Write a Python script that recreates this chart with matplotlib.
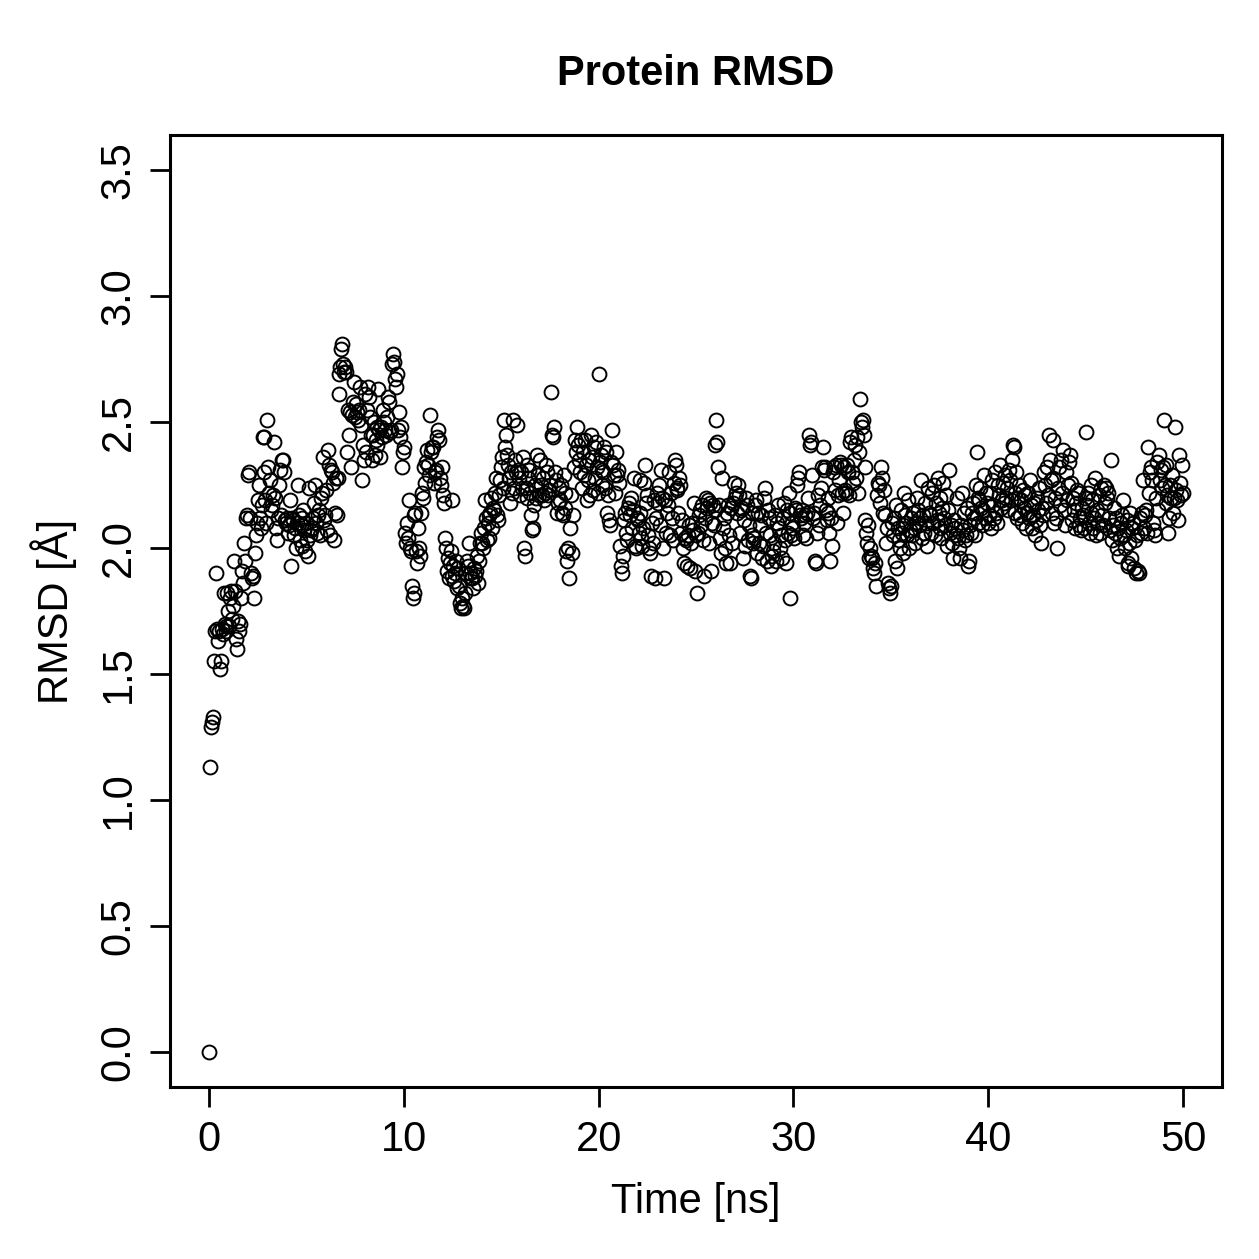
import numpy as np
import matplotlib
matplotlib.use("Agg")
import matplotlib.pyplot as plt

plt.rcParams['font.family'] = ['Liberation Sans', 'DejaVu Sans']

# RMSD values, one frame every 50 ps, split per 10 ns block
rmsd_00_10 = [
    0.00, 1.13, 1.29, 1.31, 1.33, 1.55, 1.67, 1.90, 1.68, 1.63, 1.67, 1.52, 1.55, 1.68, 1.66, 1.82, 1.70, 1.67, 1.69, 1.82,
    1.75, 1.69, 1.80, 1.83, 1.72, 1.77, 1.95, 1.83, 1.64, 1.60, 1.71, 1.67, 1.70, 1.80, 1.91, 1.86, 2.02, 1.95, 2.12, 2.13,
    2.29, 2.30, 2.12, 1.90, 1.88, 1.89, 1.80, 1.98, 2.05, 2.10, 2.19, 2.25, 2.12, 2.08, 2.17, 2.44, 2.44, 2.30, 2.19, 2.10,
    2.51, 2.32, 2.22, 2.27, 2.15, 2.17, 2.21, 2.42, 2.20, 2.08, 2.03, 2.12, 2.25, 2.31, 2.13, 2.35, 2.35, 2.30, 2.11, 2.10,
    2.12, 2.06, 2.09, 2.19, 1.93, 2.12, 2.11, 2.05, 2.08, 2.00, 2.10, 2.25, 2.13, 2.03, 2.09, 2.01, 2.12, 2.15, 2.07, 1.99,
    2.10, 2.03, 1.97, 2.24, 2.05, 2.07, 2.08, 2.12, 2.18, 2.25, 2.10, 2.06, 2.13, 2.15, 2.05, 2.20, 2.22, 2.36, 2.11, 2.13,
    2.23, 2.07, 2.39, 2.33, 2.05, 2.31, 2.30, 2.26, 2.03, 2.14, 2.28, 2.13, 2.28, 2.61, 2.69, 2.72, 2.79, 2.81, 2.73, 2.70,
    2.72, 2.70, 2.38, 2.55, 2.45, 2.54, 2.32, 2.53, 2.58, 2.66, 2.52, 2.57, 2.54, 2.51, 2.55, 2.64, 2.49, 2.27, 2.41, 2.35,
    2.61, 2.38, 2.55, 2.64, 2.60, 2.52, 2.45, 2.35, 2.45, 2.50, 2.37, 2.43, 2.48, 2.41, 2.63, 2.47, 2.36, 2.48, 2.44, 2.55,
    2.50, 2.47, 2.45, 2.52, 2.60, 2.58, 2.46, 2.47, 2.73, 2.77, 2.74, 2.67, 2.64, 2.69, 2.47, 2.54, 2.44, 2.48, 2.32, 2.38,
]
rmsd_10_20 = [
    2.40, 2.06, 2.02, 2.10, 2.04, 2.19, 2.00, 1.99, 1.85, 1.80, 1.82, 2.13, 2.14, 1.99, 1.94, 2.08, 2.00, 1.97, 2.14, 2.22,
    2.20, 2.32, 2.26, 2.34, 2.39, 2.33, 2.29, 2.53, 2.38, 2.40, 2.40, 2.26, 2.30, 2.31, 2.44, 2.47, 2.43, 2.28, 2.25, 2.32,
    2.21, 2.18, 2.04, 2.00, 1.91, 1.96, 1.88, 1.94, 1.99, 2.19, 1.89, 1.93, 1.87, 1.90, 1.95, 1.84, 1.92, 1.85, 1.78, 1.76,
    1.80, 1.77, 1.76, 1.82, 1.90, 1.95, 1.93, 2.02, 1.90, 1.88, 1.88, 1.84, 1.92, 1.89, 1.91, 1.97, 1.86, 1.95, 2.02, 2.06,
    2.02, 2.00, 2.08, 2.19, 2.12, 2.03, 2.10, 2.04, 2.13, 2.14, 2.20, 2.08, 2.16, 2.15, 2.22, 2.28, 2.13, 2.11, 2.21, 2.27,
    2.32, 2.36, 2.24, 2.51, 2.40, 2.45, 2.37, 2.33, 2.28, 2.18, 2.30, 2.22, 2.51, 2.24, 2.35, 2.30, 2.49, 2.31, 2.28, 2.21,
    2.30, 2.24, 2.36, 2.00, 1.97, 2.24, 2.33, 2.20, 2.28, 2.31, 2.22, 2.13, 2.07, 2.08, 2.17, 2.25, 2.20, 2.37, 2.29, 2.21,
    2.35, 2.25, 2.21, 2.28, 2.19, 2.22, 2.33, 2.30, 2.21, 2.23, 2.25, 2.62, 2.45, 2.44, 2.48, 2.30, 2.27, 2.14, 2.18, 2.24,
    2.19, 2.25, 2.14, 2.13, 2.29, 2.22, 2.16, 1.99, 1.95, 2.00, 1.88, 2.08, 2.21, 1.98, 2.13, 2.32, 2.43, 2.38, 2.48, 2.41,
    2.35, 2.30, 2.43, 2.24, 2.38, 2.29, 2.43, 2.33, 2.19, 2.27, 2.35, 2.21, 2.45, 2.36, 2.23, 2.40, 2.28, 2.42, 2.32, 2.22,
]
rmsd_20_30 = [
    2.69, 2.34, 2.37, 2.25, 2.31, 2.30, 2.40, 2.24, 2.38, 2.14, 2.21, 2.11, 2.09, 2.34, 2.47, 2.33, 2.29, 2.22, 2.38, 2.29,
    2.31, 2.26, 2.01, 1.93, 1.90, 1.97, 2.11, 2.14, 2.06, 2.03, 2.16, 2.18, 2.13, 2.20, 2.08, 2.15, 2.28, 2.01, 2.00, 2.12,
    2.11, 2.06, 2.14, 2.27, 2.04, 2.01, 2.08, 2.26, 2.33, 2.18, 2.21, 2.05, 2.00, 1.98, 1.89, 2.10, 2.02, 2.19, 1.88, 2.12,
    2.22, 2.18, 2.25, 2.09, 2.31, 2.20, 2.00, 1.88, 2.19, 2.06, 2.14, 2.17, 2.30, 2.05, 2.22, 2.12, 2.03, 2.26, 2.35, 2.33,
    2.23, 2.24, 2.14, 2.28, 2.25, 2.06, 2.11, 2.00, 1.94, 2.04, 2.03, 1.93, 2.05, 2.09, 1.92, 2.02, 2.10, 2.07, 2.18, 1.91,
    2.05, 1.82, 2.06, 2.13, 2.15, 2.09, 2.17, 2.03, 1.89, 2.12, 2.20, 2.16, 2.19, 2.02, 2.18, 1.91, 2.10, 2.17, 2.09, 2.15,
    2.41, 2.51, 2.42, 2.32, 2.17, 2.04, 1.98, 2.28, 2.08, 2.12, 2.00, 1.94, 2.14, 2.17, 2.05, 1.94, 2.16, 2.02, 2.18, 2.26,
    2.20, 2.22, 2.14, 2.25, 2.21, 2.06, 2.15, 2.16, 1.96, 2.11, 2.01, 2.20, 2.17, 2.03, 2.09, 1.89, 1.88, 2.05, 2.14, 2.02,
    2.04, 2.17, 2.19, 1.98, 2.14, 2.02, 2.09, 2.13, 1.96, 2.01, 2.20, 2.24, 2.06, 1.95, 2.15, 2.12, 2.05, 1.93, 1.97, 1.99,
    2.02, 2.13, 1.95, 2.10, 2.17, 2.08, 2.00, 2.05, 1.96, 2.12, 2.18, 2.03, 1.94, 2.15, 2.06, 2.22, 1.80, 2.14, 2.05, 2.10,
]
rmsd_30_40 = [
    2.08, 2.04, 2.16, 2.15, 2.25, 2.28, 2.30, 2.13, 2.12, 2.15, 2.05, 2.10, 2.13, 2.04, 2.14, 2.20, 2.45, 2.41, 2.42, 2.29,
    2.12, 2.14, 1.95, 1.94, 2.06, 2.21, 2.09, 2.17, 2.24, 2.32, 2.40, 2.31, 2.32, 2.15, 2.11, 2.14, 2.20, 2.06, 1.95, 2.12,
    2.01, 2.30, 2.32, 2.23, 2.33, 2.10, 2.21, 2.27, 2.34, 2.33, 2.22, 2.14, 2.32, 2.23, 2.22, 2.33, 2.30, 2.21, 2.42, 2.44,
    2.30, 2.26, 2.35, 2.41, 2.28, 2.44, 2.22, 2.38, 2.59, 2.50, 2.48, 2.51, 2.45, 2.32, 2.11, 2.06, 2.02, 2.09, 1.96, 2.00,
    1.97, 1.96, 1.92, 1.90, 1.94, 1.85, 2.21, 2.26, 2.25, 2.18, 2.32, 2.28, 2.14, 2.23, 2.13, 2.02, 2.08, 1.86, 1.84, 1.82,
    1.85, 2.10, 2.05, 2.12, 1.95, 2.17, 1.92, 2.08, 2.03, 2.00, 2.15, 2.06, 2.09, 1.98, 2.22, 2.13, 2.10, 2.05, 2.19, 2.00,
    2.07, 2.12, 2.05, 2.14, 2.08, 2.02, 2.10, 2.20, 2.15, 2.09, 2.12, 2.27, 2.04, 2.13, 2.06, 2.18, 2.10, 2.01, 2.24, 2.14,
    2.13, 2.06, 2.22, 2.10, 2.25, 2.05, 2.18, 2.11, 2.28, 2.14, 2.20, 2.08, 2.04, 2.16, 2.26, 2.12, 2.09, 2.21, 2.01, 2.15,
    2.31, 2.06, 2.09, 2.02, 1.96, 2.11, 2.08, 2.05, 2.20, 2.04, 2.00, 1.96, 2.09, 2.22, 2.07, 2.14, 2.03, 2.05, 2.16, 1.93,
    1.95, 2.09, 2.06, 2.14, 2.18, 2.12, 2.05, 2.25, 2.38, 2.20, 2.10, 2.19, 2.24, 2.16, 2.09, 2.15, 2.29, 2.12, 2.22, 2.18,
]
rmsd_40_50 = [
    2.10, 2.13, 2.22, 2.08, 2.27, 2.17, 2.12, 2.30, 2.14, 2.10, 2.25, 2.21, 2.33, 2.16, 2.19, 2.26, 2.18, 2.29, 2.20, 2.24,
    2.15, 2.31, 2.27, 2.19, 2.35, 2.41, 2.40, 2.22, 2.14, 2.30, 2.12, 2.20, 2.25, 2.13, 2.19, 2.10, 2.23, 2.16, 2.21, 2.08,
    2.14, 2.22, 2.12, 2.27, 2.17, 2.08, 2.13, 2.18, 2.05, 2.11, 2.20, 2.15, 2.24, 2.09, 2.02, 2.16, 2.13, 2.30, 2.25, 2.18,
    2.32, 2.21, 2.45, 2.35, 2.27, 2.14, 2.43, 2.28, 2.10, 2.20, 2.12, 2.00, 2.24, 2.32, 2.17, 2.35, 2.22, 2.39, 2.15, 2.09,
    2.30, 2.19, 2.25, 2.34, 2.37, 2.26, 2.11, 2.20, 2.15, 2.08, 2.18, 2.23, 2.22, 2.09, 2.12, 2.07, 2.16, 2.13, 2.08, 2.20,
    2.46, 2.17, 2.22, 2.10, 2.06, 2.14, 2.25, 2.19, 2.08, 2.12, 2.28, 2.05, 2.15, 2.10, 2.21, 2.06, 2.24, 2.13, 2.09, 2.25,
    2.18, 2.24, 2.20, 2.22, 2.12, 2.07, 2.35, 2.03, 2.09, 2.16, 2.06, 2.12, 2.00, 2.08, 1.97, 2.04, 2.10, 2.13, 2.19, 2.05,
    2.00, 2.07, 2.11, 1.94, 1.93, 2.02, 2.14, 1.96, 2.08, 2.10, 1.92, 2.03, 1.90, 2.05, 1.91, 1.90, 2.12, 2.06, 2.14, 2.27,
    2.08, 2.13, 2.15, 2.06, 2.40, 2.22, 2.30, 2.32, 2.27, 2.10, 2.07, 2.05, 2.20, 2.34, 2.15, 2.37, 2.27, 2.31, 2.24, 2.32,
    2.51, 2.25, 2.18, 2.33, 2.21, 2.06, 2.12, 2.25, 2.20, 2.29, 2.14, 2.20, 2.48, 2.23, 2.19, 2.11, 2.37, 2.26, 2.21, 2.33,
    2.22,
]

rmsd = np.array(rmsd_00_10 + rmsd_10_20 + rmsd_20_30 + rmsd_30_40 + rmsd_40_50)
dt_ns = 0.05
time_ns = np.arange(len(rmsd)) * dt_ns

x_ticks = [0, 10, 20, 30, 40, 50]
y_ticks = [0.0, 0.5, 1.0, 1.5, 2.0, 2.5, 3.0, 3.5]

W = 1259
fig = plt.figure(figsize=(W / 100, W / 100), dpi=100)
ax = fig.add_axes([170 / W, 1 - 1087 / W, (1222 - 170) / W, (1087 - 135) / W])

ax.plot(time_ns, rmsd, linestyle='none', marker='o', ms=10, mfc='none',
        mec='black', mew=1.4)

ax.set_xlim(-2, 52)
ax.set_ylim(-0.14, 3.64)
ax.set_xticks(x_ticks)
ax.set_xticklabels([str(v) for v in x_ticks])
ax.set_yticks(y_ticks)
ax.set_yticklabels(['%.1f' % v for v in y_ticks], rotation=90, va='center')

# R-style box and outward ticks
for s in ax.spines.values():
    s.set_linewidth(2.2)
ax.tick_params(direction='out', length=14.5, width=2.0, labelsize=30, pad=9)
ax.tick_params(axis='y', pad=8)

ax.set_title('Protein RMSD', fontsize=30, fontweight='bold', pad=36)
ax.set_xlabel('Time [ns]', fontsize=30, labelpad=16)
ax.set_ylabel('RMSD [Å]', fontsize=30, labelpad=16)

fig.savefig('out.png', dpi=100)
